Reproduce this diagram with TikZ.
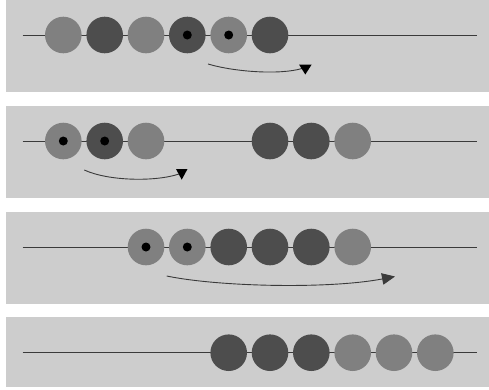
\documentclass[tikz,border=0pt]{standalone}
\usetikzlibrary{arrows.meta}
\definecolor{panelgray}{HTML}{CDCDCD}
\definecolor{beadlight}{HTML}{808080}
\definecolor{beaddark}{HTML}{4D4D4D}
\definecolor{wiregray}{HTML}{3A3A3A}
\tikzset{
  panel/.style={fill=panelgray, draw=none},
  wire/.style={draw=wiregray, line width=1pt},
  bead/.style={circle, inner sep=0pt, minimum size=36.6pt, draw=none},
  lbead/.style={bead, fill=beadlight},
  dbead/.style={bead, fill=beaddark},
  dotmark/.style={circle, inner sep=0pt, minimum size=9pt, fill=black},
  movearrow/.style={draw=wiregray, line width=0.9pt},
  headtip/.style={fill=black, draw=none},
}
\begin{document}
\begin{tikzpicture}[x=1pt, y=-1pt]
\useasboundingbox (0,0) rectangle (489,389);
% panels
\path[panel] (6,0) rectangle (489,92);
\path[panel] (6,106) rectangle (489,198);
\path[panel] (6,212) rectangle (489,304);
\path[panel] (6,317) rectangle (489,387);
% wires
\coordinate (w1l) at (22.7,35);  \coordinate (w1r) at (476.7,35);
\coordinate (w2l) at (22.7,141); \coordinate (w2r) at (476.7,141);
\coordinate (w3l) at (22.7,247); \coordinate (w3r) at (476.7,247);
\coordinate (w4l) at (22.7,352.7); \coordinate (w4r) at (476.7,352.7);
\draw[wire] (w1l) -- (w1r);
\draw[wire] (w2l) -- (w2r);
\draw[wire] (w3l) -- (w3r);
\draw[wire] (w4l) -- (w4r);
% panel 1
\node[lbead] (a1) at (63.3,35) {};
\node[dbead] (a2) at (104.7,35) {};
\node[lbead] (a3) at (146,35) {};
\node[dbead] (a4) at (187.3,35) {};
\node[lbead] (a5) at (228.7,35) {};
\node[dbead] (a6) at (270,35) {};
\node[dotmark] (ad4) at (a4) {};
\node[dotmark] (ad5) at (a5) {};
% panel 2
\node[lbead] (b1) at (63.3,141) {};
\node[dbead] (b2) at (104.7,141) {};
\node[lbead] (b3) at (146,141) {};
\node[dbead] (b6) at (270,141) {};
\node[dbead] (b7) at (311.3,141) {};
\node[lbead] (b8) at (352.7,141) {};
\node[dotmark] (bd1) at (b1) {};
\node[dotmark] (bd2) at (b2) {};
% panel 3
\node[lbead] (c3) at (146,247) {};
\node[lbead] (c4) at (187.3,247) {};
\node[dbead] (c5) at (228.7,247) {};
\node[dbead] (c6) at (270,247) {};
\node[dbead] (c7) at (311.3,247) {};
\node[lbead] (c8) at (352.7,247) {};
\node[dotmark] (cd3) at (c3) {};
\node[dotmark] (cd4) at (c4) {};
% panel 4
\node[dbead] (d5) at (228.7,352.7) {};
\node[dbead] (d6) at (270,352.7) {};
\node[dbead] (d7) at (311.3,352.7) {};
\node[lbead] (d8) at (352.7,352.7) {};
\node[lbead] (d9) at (394,352.7) {};
\node[lbead] (d10) at (435.3,352.7) {};
% arrows
\coordinate (m1s) at (208,64);  \coordinate (m1e) at (302,68.5);
\draw[movearrow] (m1s) .. controls (235,72) and (280,75) .. (m1e);
\fill[headtip] (299,64.5) -- (311.7,64.5) -- (305.3,74.5) -- cycle;
\coordinate (m2s) at (84.3,170); \coordinate (m2e) at (179,174);
\draw[movearrow] (m2s) .. controls (108,181) and (155,182) .. (m2e);
\fill[headtip] (176,169) -- (187.5,169) -- (181.7,179.7) -- cycle;
\coordinate (m3s) at (166.7,276); \coordinate (m3e) at (395,276.5);
\draw[movearrow, -{Triangle[length=13pt,width=11.5pt]}] (m3s) .. controls (220,287) and (330,289) .. (m3e);
\end{tikzpicture}
\end{document}
